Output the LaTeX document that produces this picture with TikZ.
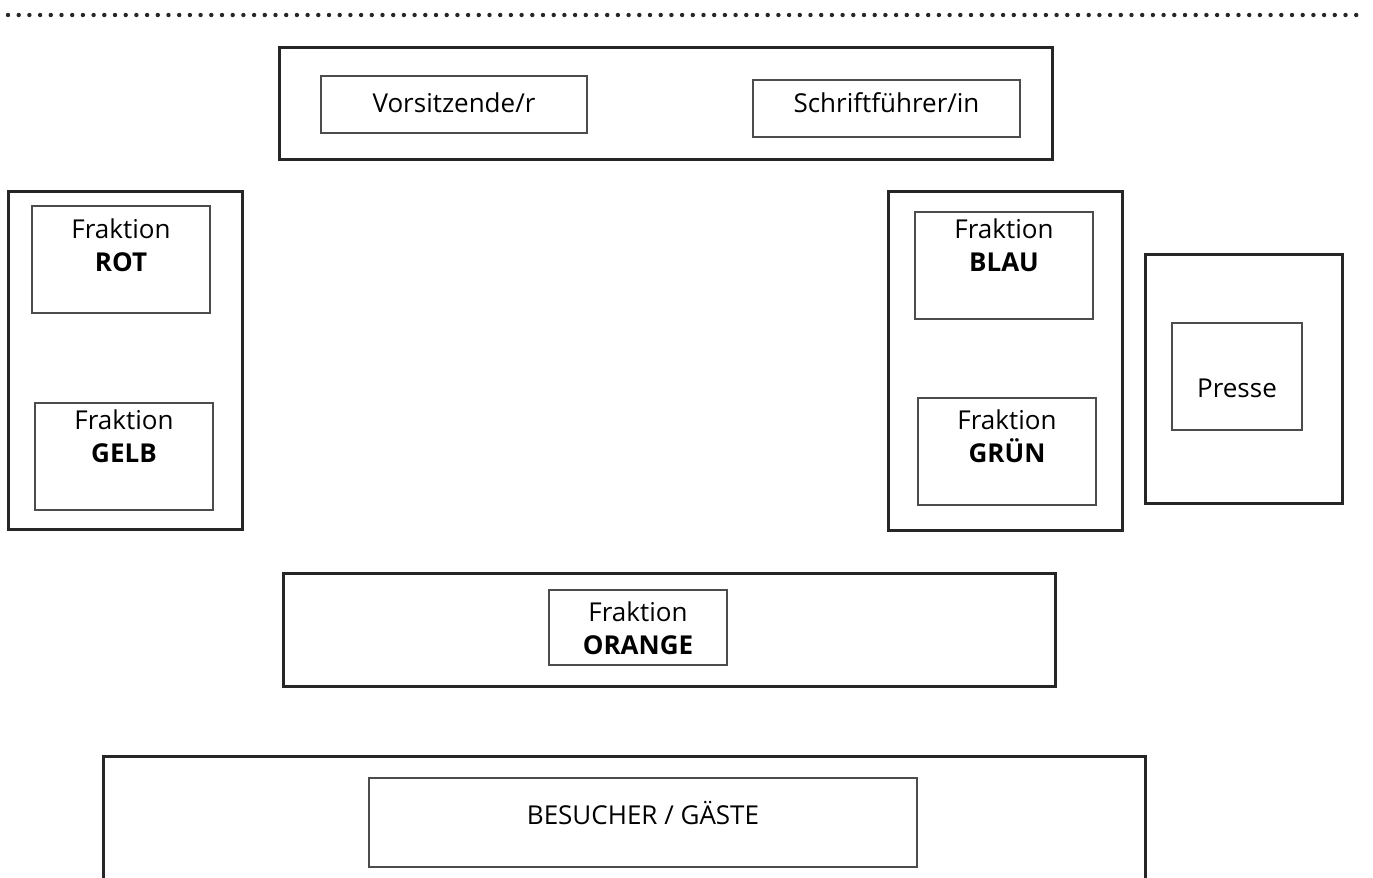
\documentclass[tikz,border=0pt]{standalone}
\usepackage{fontspec}
\setmainfont{Open Sans}
\usepackage{tikz}
\usetikzlibrary{positioning}

\begin{document}
\begin{tikzpicture}[
  x=0.5pt, y=-0.5pt,
  tisch/.style={draw=black!85, line width=1.5pt, minimum width=#1, inner sep=0pt},
  platz/.style={draw=black!70, line width=0.6pt, inner sep=0pt,
                minimum width=89pt, minimum height=53.5pt},
  schild/.style={align=center, inner sep=0pt,
                 font=\fontsize{13}{16.5}\selectfont},
  punktlinie/.style={line width=2.2pt, line cap=round, black!85,
                     dash pattern=on 0pt off 5.35pt}
]
  \useasboundingbox (0,0) rectangle (1373,878);

  % Trennlinie oben
  \coordinate (p0) at (8,15);
  \coordinate (p1) at (1358,15);
  \draw[punktlinie] (p0) -- (p1);

  % Praesidium
  \node[tisch=386.5pt, minimum height=56pt] (praesidium) at (665.5,103) {};
  \node[platz, minimum width=133pt, minimum height=28.5pt] (vorsitz) at (454,104.5) {};
  \node[schild] (vorsitzText) at ([yshift=1pt]vorsitz.center) {Vorsitzende/r};
  \node[platz, minimum width=133.5pt, minimum height=28.5pt] (schrift) at (886.5,108.5) {};
  \node[schild] (schriftText) at ([yshift=3pt]schrift.center) {Schriftführer/in};

  % linke Seite
  \node[tisch=117pt, minimum height=169pt] (links) at (125,360) {};
  \node[platz] (rot) at (121,259.5) {};
  \node[schild, below=6.7pt of rot.north] (rotText) {Fraktion\\\textbf{ROT}};
  \node[platz] (gelb) at (124,456.5) {};
  \node[schild, below=3.7pt of gelb.north] (gelbText) {Fraktion\\\textbf{GELB}};

  % rechte Seite
  \node[tisch=117pt, minimum height=169.5pt] (rechts) at (1005,360.5) {};
  \node[platz] (blau) at (1004,265.5) {};
  \node[schild, below=3.6pt of blau.north] (blauText) {Fraktion\\\textbf{BLAU}};
  \node[platz] (gruen) at (1007,451.5) {};
  \node[schild, below=6.1pt of gruen.north] (gruenText) {Fraktion\\\textbf{GRÜN}};

  % Presse
  \node[tisch=98.5pt, minimum height=124.5pt] (presseTisch) at (1243.5,378.5) {};
  \node[platz, minimum width=65pt] (presse) at (1237,376.5) {};
  \node[schild] (presseText) at ([yshift=-6pt]presse.center) {Presse};

  % unten
  \node[tisch=386pt, minimum height=56.5pt] (orangeTisch) at (669,629.5) {};
  \node[platz, minimum height=37.5pt] (orange) at (638,627.5) {};
  \node[schild, below=6.1pt of orange.north] (orangeText) {Fraktion\\\textbf{ORANGE}};

  % Besucher
  \coordinate (bl) at (103,885);
  \coordinate (br) at (1145,885);
  \draw[black!85, line width=1.5pt] (bl) |- (1145,756) -- (br);
  \node[platz, minimum width=274pt, minimum height=44.5pt] (besucher) at (643,822.5) {};
  \node[schild] (besucherText) at ([yshift=4.5pt]besucher.center) {BESUCHER / GÄSTE};
\end{tikzpicture}
\end{document}
